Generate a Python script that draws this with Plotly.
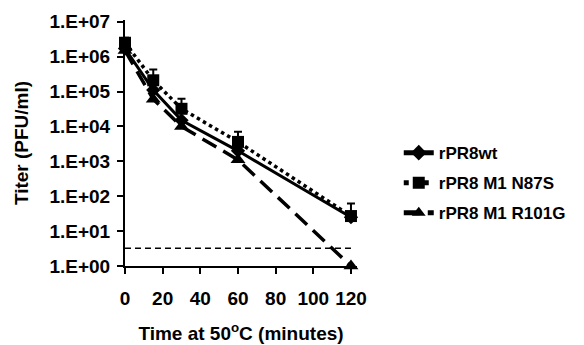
import plotly.graph_objects as go

time_min = [0, 15, 30, 60, 120]
wt = [1.7e6, 1.1e5, 1.5e4, 2.0e3, 25]
n87s = [2.5e6, 2.1e5, 3.2e4, 3.6e3, 27]
n87s_err_up = [1.0e6, 2.2e5, 3.0e4, 3.4e3, 35]
r101g = [1.5e6, 6.0e4, 1.0e4, 1.1e3, 1]
detection_limit = 3.2
x_ticks = [0, 20, 40, 60, 80, 100, 120]
y_tickvals = [1, 10, 100, 1e3, 1e4, 1e5, 1e6, 1e7]
y_ticktext = ["1.E+00", "1.E+01", "1.E+02", "1.E+03", "1.E+04", "1.E+05", "1.E+06", "1.E+07"]

FONT = "Liberation Sans, Arial, sans-serif"
fig = go.Figure()

fig.add_trace(go.Scatter(
    x=[time_min[0], time_min[-1]], y=[detection_limit, detection_limit],
    mode="lines", line=dict(color="black", width=1.5, dash="6px,4px"),
    showlegend=False, hoverinfo="skip", cliponaxis=False))

fig.add_trace(go.Scatter(
    x=time_min, y=wt, name="rPR8wt", mode="lines+markers", legendgroup="a",
    line=dict(color="black", width=3),
    marker=dict(symbol="diamond", size=11, color="black"),
    cliponaxis=False))

fig.add_trace(go.Scatter(
    x=time_min, y=n87s, name="rPR8 M1 N87S", mode="lines+markers", legendgroup="b",
    line=dict(color="black", width=3.5, dash="dot"),
    marker=dict(symbol="square", size=12, color="black"),
    error_y=dict(type="data", symmetric=False, array=n87s_err_up,
                 arrayminus=[0] * len(n87s), color="black", thickness=2, width=4),
    cliponaxis=False))

fig.add_trace(go.Scatter(
    x=time_min, y=r101g, name="rPR8 M1 R101G", mode="lines+markers", legendgroup="c",
    line=dict(color="black", width=3.5, dash="16px,8px"),
    marker=dict(symbol="triangle-up", size=13, color="black"),
    cliponaxis=False))

fig.update_layout(
    width=584, height=345,
    margin=dict(l=117, r=235, t=12, b=87, autoexpand=False),
    paper_bgcolor="white", plot_bgcolor="white",
    font=dict(family=FONT, color="black"),
    legend=dict(x=1.18, y=0.337, xanchor="left", yanchor="middle",
                font=dict(family=FONT, size=17, color="black", weight="bold"),
                tracegroupgap=5, itemsizing="constant",
                bgcolor="rgba(0,0,0,0)"),
    xaxis=dict(range=[0, 123.2], tickvals=x_ticks, automargin=False,
               showgrid=False, zeroline=False,
               showline=True, linecolor="black", linewidth=2,
               ticks="outside", ticklen=6, tickwidth=1.5, tickcolor="black",
               ticklabelstandoff=8,
               tickfont=dict(family=FONT, size=19, color="black", weight="bold"),
               title=dict(text="<b>Time at 50<sup>o</sup>C (minutes)</b>",
                          font=dict(family=FONT, size=19, color="black"),
                          standoff=19)),
    yaxis=dict(type="log", range=[0, 7.05], tickvals=y_tickvals, ticktext=y_ticktext,
               automargin=False,
               showgrid=False, zeroline=False,
               showline=True, linecolor="black", linewidth=2,
               ticks="outside", ticklen=6, tickwidth=1.5, tickcolor="black",
               ticklabelstandoff=3,
               tickfont=dict(family=FONT, size=19, color="black", weight="bold"),
               title=dict(text="<b>Titer (PFU/ml)</b>",
                          font=dict(family=FONT, size=19, color="black"),
                          standoff=16)),
)

fig.write_html("out.html")
